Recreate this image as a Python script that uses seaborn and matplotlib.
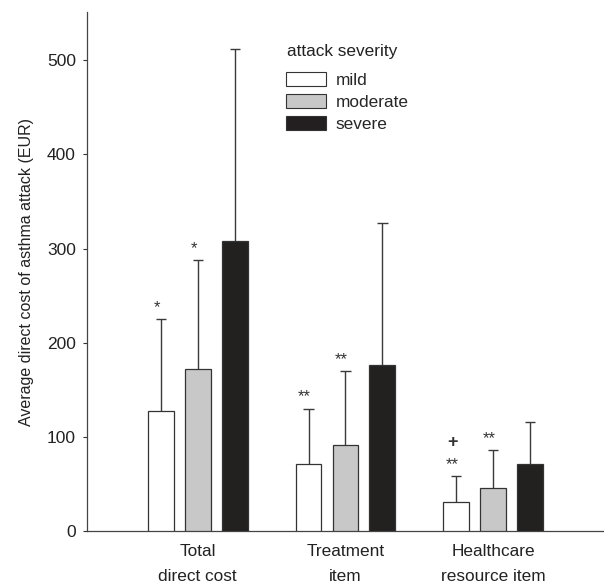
import matplotlib
matplotlib.use("Agg")
import matplotlib.pyplot as plt
from matplotlib.patches import Patch
import seaborn as sns
import pandas as pd

# values (EUR)
categories = ["Total\ndirect cost", "Treatment\nitem", "Healthcare\nresource item"]
severity = ["mild", "moderate", "severe"]
mild_mean = [128, 71, 31]
moderate_mean = [172, 91, 46]
severe_mean = [308, 176, 71]
mild_sd = [97, 59, 27]
moderate_sd = [116, 79, 40]
severe_sd = [204, 151, 45]
mild_marks = ["*", "**", "**"]
moderate_marks = ["*", "**", "**"]
severe_marks = ["", "", ""]
extra_marks = {(0, 2): "+"}  # (severity index, category index)

colors = ["#ffffff", "#c8c8c8", "#231f20"]
edge = "#333333"

rows = []
for sev, means in zip(severity, [mild_mean, moderate_mean, severe_mean]):
    for cat, m in zip(categories, means):
        rows.append({"category": cat, "severity": sev, "cost": m})
df = pd.DataFrame(rows)

sns.set_style("white")
plt.rcParams["font.family"] = ["Liberation Sans", "DejaVu Sans"]

fig = plt.figure(figsize=(6.04, 5.83), dpi=100)
ax = fig.add_axes([0.144, 0.089, 0.856, 0.890])

sns.barplot(data=df, x="category", y="cost", hue="severity", order=categories,
            hue_order=severity, palette=colors, edgecolor=edge, linewidth=0.9,
            gap=0.3, width=0.75, legend=False, ax=ax, zorder=3)

sds = [mild_sd, moderate_sd, severe_sd]
means_all = [mild_mean, moderate_mean, severe_mean]
marks_all = [mild_marks, moderate_marks, severe_marks]
cap = 0.035
for i, cont in enumerate(ax.containers):
    for j, bar in enumerate(cont):
        xc = bar.get_x() + bar.get_width() / 2
        top = means_all[i][j] + sds[i][j]
        ax.vlines(xc, means_all[i][j], top, color="#3a3a3a", lw=1.0, zorder=2)
        ax.hlines(top, xc - cap, xc + cap, color="#3a3a3a", lw=1.0, zorder=2)
        if marks_all[i][j]:
            ax.annotate(marks_all[i][j], (xc, top), xytext=(-3, 3),
                        textcoords="offset points", ha="center", va="bottom",
                        fontsize=12, color="#333333")
        if (i, j) in extra_marks:
            ax.annotate(extra_marks[(i, j)], (xc, top), xytext=(-3, 18),
                        textcoords="offset points", ha="center", va="bottom",
                        fontsize=13, fontweight="bold", color="#333333")

ax.set_xlim(-0.75, 2.75)
ax.set_ylim(0, 551)
ax.set_yticks([0, 100, 200, 300, 400, 500])
ax.tick_params(axis="y", length=3, width=0.8, labelsize=12.5, color="#333333",
               labelcolor="#222222", pad=5, left=True)
ax.tick_params(axis="x", length=0, labelsize=12.4, labelcolor="#222222", pad=9)
for lab in ax.get_xticklabels():
    lab.set_linespacing(1.85)
ax.set_xlabel("")
ax.set_ylabel("Average direct cost of asthma attack (EUR)", fontsize=11.5,
              color="#222222", labelpad=9)
sns.despine(ax=ax, top=True, right=True)
for s in ["left", "bottom"]:
    ax.spines[s].set_color("#444444")
    ax.spines[s].set_linewidth(0.9)

# legend title placed on its own, the original has a wide gap under it
ax.text(0.387, 0.925, "attack severity", transform=ax.transAxes,
        fontsize=12.4, color="#222222", ha="left", va="center")
handles = [Patch(facecolor=c, edgecolor=edge, linewidth=0.8, label=s)
           for c, s in zip(colors, severity)]
leg = ax.legend(handles=handles, loc="upper left",
                bbox_to_anchor=(0.385, 0.884), frameon=False, fontsize=12.4,
                handlelength=2.3, handleheight=0.85, labelspacing=0.36,
                handletextpad=0.6, borderpad=0, borderaxespad=0)

fig.savefig("out.png", dpi=100)
